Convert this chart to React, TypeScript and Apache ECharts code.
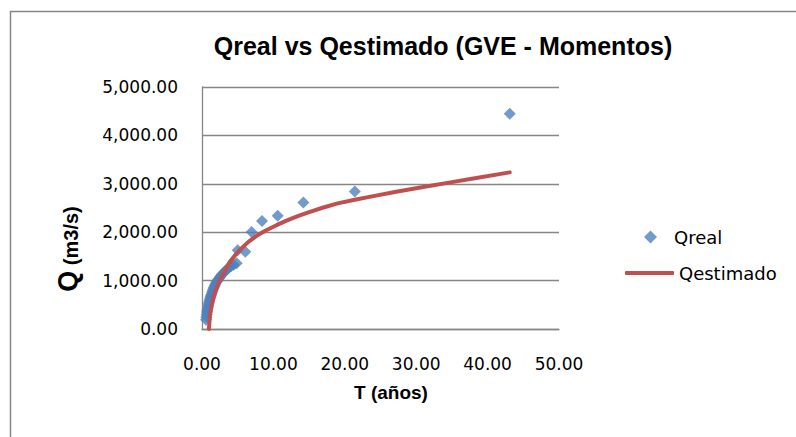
import React, { useEffect, useRef } from "react";
import * as echarts from "echarts";

const titleText = "Qreal vs Qestimado (GVE - Momentos)";
const xAxisTitle = "T (años)";
const seriesNames = ["Qreal", "Qestimado"];

// Observed data (return period T, discharge Q)
const realT = [
  43.1, 21.4, 14.2, 10.6, 8.4, 6.95, 6.07, 5.0, 4.85,
  4.45, 4.1, 3.8, 3.55, 3.3, 3.1, 2.9, 2.7, 2.55, 2.4, 2.25, 2.1, 1.98, 1.86, 1.75,
  1.65, 1.55, 1.46, 1.38, 1.3, 1.22, 1.15, 1.08, 1.02, 0.96, 0.9, 0.85, 0.8, 0.75,
  0.7, 0.65, 0.6, 0.56,
];
const realQ = [
  4445, 2843, 2615, 2340, 2230, 2002, 1595, 1625, 1360,
  1330, 1300, 1270, 1240, 1205, 1170, 1140, 1110, 1080, 1050, 1015, 985, 955, 920, 885,
  850, 815, 780, 745, 710, 675, 640, 605, 570, 535, 500, 465, 430, 395,
  350, 300, 250, 190,
];

// Fitted GEV curve (T, Q)
const estT = [0.97, 1.03, 1.1, 1.2, 1.35, 1.55, 1.9, 2.4, 2.85, 3.4, 3.9, 4.5, 5.4, 6.5, 7.7, 9.0, 10.5, 12.0, 13.5, 15.0, 17.0, 19.0, 21.4, 24.0, 27.0, 31.0, 35.0, 38.0, 43.1];
const estQ = [0, 130, 255, 370, 500, 620, 790, 980, 1110, 1260, 1390, 1500, 1650, 1800, 1930, 2040, 2150, 2250, 2335, 2415, 2510, 2595, 2670, 2745, 2830, 2935, 3035, 3110, 3236];

const xTicks = [0, 10, 20, 30, 40, 50];
const yTicks = [0, 1000, 2000, 3000, 4000, 5000];

const BLUE = "#4F81BD";
const RED = "#C0504D";
const GREY = "#868686";

function fmt(v: number) {
  return v.toLocaleString("en-US", { minimumFractionDigits: 2, maximumFractionDigits: 2 });
}

export default function App() {
  const ref = useRef<HTMLDivElement>(null);
  useEffect(() => {
    if (!ref.current) return;
    const chart = echarts.init(ref.current, undefined, { renderer: "svg" });
    const tickFont = { fontFamily: "DejaVu Sans", fontSize: 17, color: "#000" };
    chart.setOption({
      animation: false,
      backgroundColor: "#fff",
      title: {
        text: titleText,
        left: 438,
        top: 28,
        textAlign: "center",
        textStyle: { fontFamily: "Liberation Sans", fontWeight: "bold", fontSize: 25, color: "#000" },
      },
      legend: [
        {
          data: [seriesNames[0]],
          left: 639,
          top: 223,
          itemWidth: 13,
          itemHeight: 13,
          icon: "diamond",
          textStyle: { fontFamily: "DejaVu Sans", fontSize: 18, color: "#000", padding: [0, 0, 0, 12] },
        },
        {
          data: [seriesNames[1]],
          left: 620,
          top: 259,
          itemWidth: 49,
          itemHeight: 4,
          icon: "roundRect",
          textStyle: { fontFamily: "DejaVu Sans", fontSize: 18, color: "#000" },
        },
      ],
      grid: { left: 202, top: 87, width: 357, height: 242, containLabel: false },
      xAxis: {
        type: "value",
        min: xTicks[0],
        max: xTicks[xTicks.length - 1],
        interval: 10,
        name: xAxisTitle,
        nameLocation: "middle",
        nameGap: 54,
        nameTextStyle: {
          fontFamily: "Liberation Sans",
          fontWeight: "bold",
          fontSize: 19,
          color: "#000",
          padding: [0, 0, 0, 21],
        },
        axisLine: { show: true, lineStyle: { color: GREY, width: 1.3 } },
        axisTick: { show: false },
        splitLine: { show: false },
        axisLabel: { ...tickFont, margin: 26, formatter: (v: number) => fmt(v) },
      },
      yAxis: {
        type: "value",
        min: yTicks[0],
        max: yTicks[yTicks.length - 1],
        interval: 1000,
        axisLine: { show: true, lineStyle: { color: GREY, width: 1.3 } },
        axisTick: { show: false },
        splitLine: { show: true, lineStyle: { color: GREY, width: 1.3 } },
        axisLabel: { ...tickFont, margin: 24, formatter: (v: number) => fmt(v) },
      },
      graphic: [
        {
          type: "rect",
          silent: true,
          shape: { x: 10.5, y: 11.5, width: 900, height: 500 },
          style: { fill: "none", stroke: GREY, lineWidth: 1.5 },
          z: -10,
        },
        {
          type: "text",
          x: 66,
          y: 249,
          rotation: Math.PI / 2,
          style: {
            text: "{q|Q}{u| (m3/s)}",
            align: "center",
            verticalAlign: "middle",
            rich: {
              q: { fontFamily: "Liberation Sans", fontWeight: "bold", fontSize: 27, lineHeight: 30, verticalAlign: "bottom", fill: "#000" },
              u: { fontFamily: "Liberation Sans", fontWeight: "bold", fontSize: 20, lineHeight: 30, verticalAlign: "bottom", fill: "#000" },
            },
          },
        },
      ],
      series: [
        {
          name: seriesNames[0],
          type: "scatter",
          symbol: "diamond",
          symbolSize: 12,
          itemStyle: { color: BLUE },
          data: realT.map((t, i) => [t, realQ[i]]),
          z: 2,
        },
        {
          name: seriesNames[1],
          type: "line",
          showSymbol: false,
          symbol: "none",
          smooth: false,
          lineStyle: { color: RED, width: 4, cap: "round", join: "round" },
          itemStyle: { color: RED },
          data: estT.map((t, i) => [t, estQ[i]]),
          z: 3,
        },
      ],
    });
    return () => chart.dispose();
  }, []);
  return <div ref={ref} style={{ width: 796, height: 437, position: "absolute", left: 0, top: 0 }} />;
}
